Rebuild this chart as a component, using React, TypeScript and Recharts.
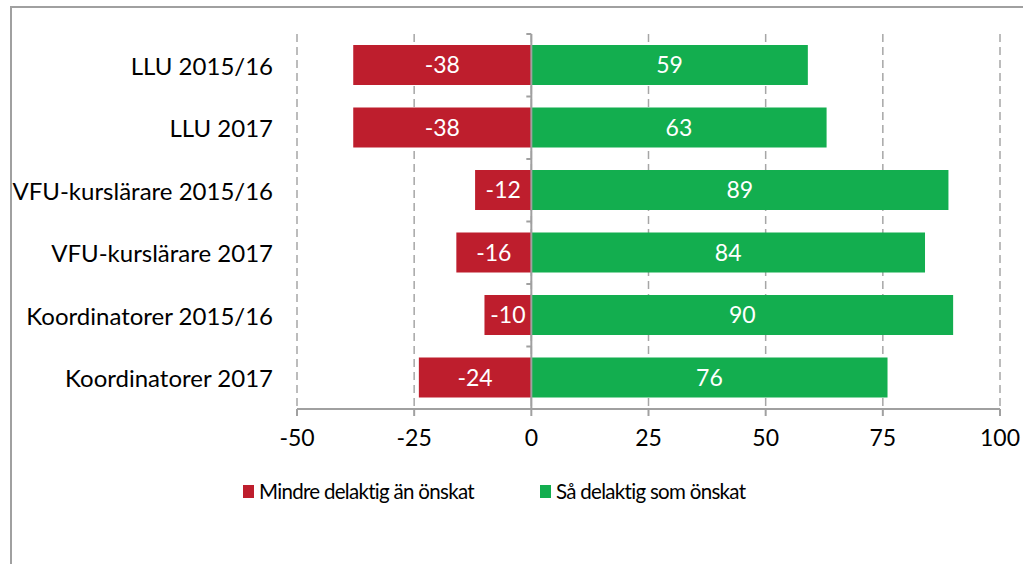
import React from "react";
import {
  BarChart,
  Bar,
  XAxis,
  YAxis,
  CartesianGrid,
  Legend,
  LabelList,
  ReferenceLine,
} from "recharts";

const categories = [
  "LLU 2015/16",
  "LLU 2017",
  "VFU-kurslärare 2015/16",
  "VFU-kurslärare 2017",
  "Koordinatorer 2015/16",
  "Koordinatorer 2017",
];
const lessInvolved = [-38, -38, -12, -16, -10, -24];
const asDesired = [59, 63, 89, 84, 90, 76];
const xTicks = [-50, -25, 0, 25, 50, 75, 100];
const seriesNames = ["Mindre delaktig än önskat", "Så delaktig som önskat"];

const data = categories.map((c, i) => ({
  name: c,
  less: lessInvolved[i],
  desired: asDesired[i],
}));

const W = 1023;
const H = 564;
const MARGIN = { top: 34, right: 23, bottom: 115, left: 10 };
const Y_AXIS_W = 287;
const X_AXIS_H = 40;
const PLOT_LEFT = MARGIN.left + Y_AXIS_W;
const PLOT_W = W - PLOT_LEFT - MARGIN.right;
const PLOT_H = H - MARGIN.top - MARGIN.bottom - X_AXIS_H;
const DOMAIN: [number, number] = [-50, 100];
const ZERO_X = PLOT_LEFT + ((0 - DOMAIN[0]) / (DOMAIN[1] - DOMAIN[0])) * PLOT_W;
const BAND = PLOT_H / categories.length;

const RED = "#BE1E2D";
const GREEN = "#13AE4F";
const AXIS = "#A0A0A0";
const FONT = "Lato, 'Open Sans', sans-serif";

const CategoryTick = (props: any) => {
  const { y, payload } = props;
  const by = y - BAND / 2;
  return (
    <g>
      <text
        x={PLOT_LEFT - 24}
        y={y}
        textAnchor="end"
        dominantBaseline="central"
        fontSize={24}
        fontFamily={FONT}
        fill="#000"
      >
        {payload.value}
      </text>
      <line x1={ZERO_X - 5} x2={ZERO_X} y1={by} y2={by} stroke={AXIS} strokeWidth={2} />
    </g>
  );
};

const LegendContent = () => (
  <div style={{ display: "flex", fontFamily: FONT, fontSize: 20.5, letterSpacing: "-0.7px", color: "#000" }}>
    {[RED, GREEN].map((c, i) => (
      <div key={i} style={{ display: "flex", alignItems: "center", width: i === 0 ? 297 : "auto" }}>
        <span style={{ display: "inline-block", width: 11, height: 13, background: c, marginRight: 5 }} />
        <span>{seriesNames[i]}</span>
      </div>
    ))}
  </div>
);

export default function App() {
  return (
    <div style={{ position: "absolute", left: 0, top: 0, width: W, height: H, overflow: "hidden", background: "#fff" }}>
      <div
        style={{
          position: "absolute",
          left: 10,
          top: 6,
          width: 1100,
          height: 700,
          border: "2px solid #A0A0A0",
          boxSizing: "border-box",
        }}
      />
      <div style={{ position: "absolute", left: 0, top: 0 }}>
        <BarChart
          width={W}
          height={H}
          data={data}
          layout="vertical"
          stackOffset="sign"
          margin={MARGIN}
          barSize={40}
        >
          <CartesianGrid horizontal={false} vertical stroke="#A6A6A6" strokeDasharray="8 5" strokeWidth={1.5} />
          <XAxis
            type="number"
            domain={DOMAIN}
            ticks={xTicks}
            height={X_AXIS_H}
            axisLine={{ stroke: AXIS, strokeWidth: 2 }}
            tickLine={{ stroke: AXIS, strokeWidth: 2 }}
            tickSize={7}
            tickMargin={14}
            tick={{ fontSize: 23, fontFamily: FONT, fill: "#000" }}
            interval={0}
            allowDataOverflow
          />
          <YAxis
            type="category"
            dataKey="name"
            width={Y_AXIS_W}
            axisLine={false}
            tickLine={false}
            tick={<CategoryTick />}
            interval={0}
          />
          <Legend
            verticalAlign="middle"
            align="center"
            layout="horizontal"
            wrapperStyle={{ top: 479, left: 243, width: 700 }}
            content={<LegendContent />}
          />
          <Bar dataKey="less" name={seriesNames[0]} stackId="s" fill={RED} isAnimationActive={false}>
            <LabelList dataKey="less" position="center" fill="#fff" fontSize={23} fontFamily={FONT} />
          </Bar>
          <Bar dataKey="desired" name={seriesNames[1]} stackId="s" fill={GREEN} isAnimationActive={false}>
            <LabelList dataKey="desired" position="center" fill="#fff" fontSize={23} fontFamily={FONT} />
          </Bar>
          <ReferenceLine x={0} stroke={AXIS} strokeWidth={2} />
        </BarChart>
      </div>
    </div>
  );
}
